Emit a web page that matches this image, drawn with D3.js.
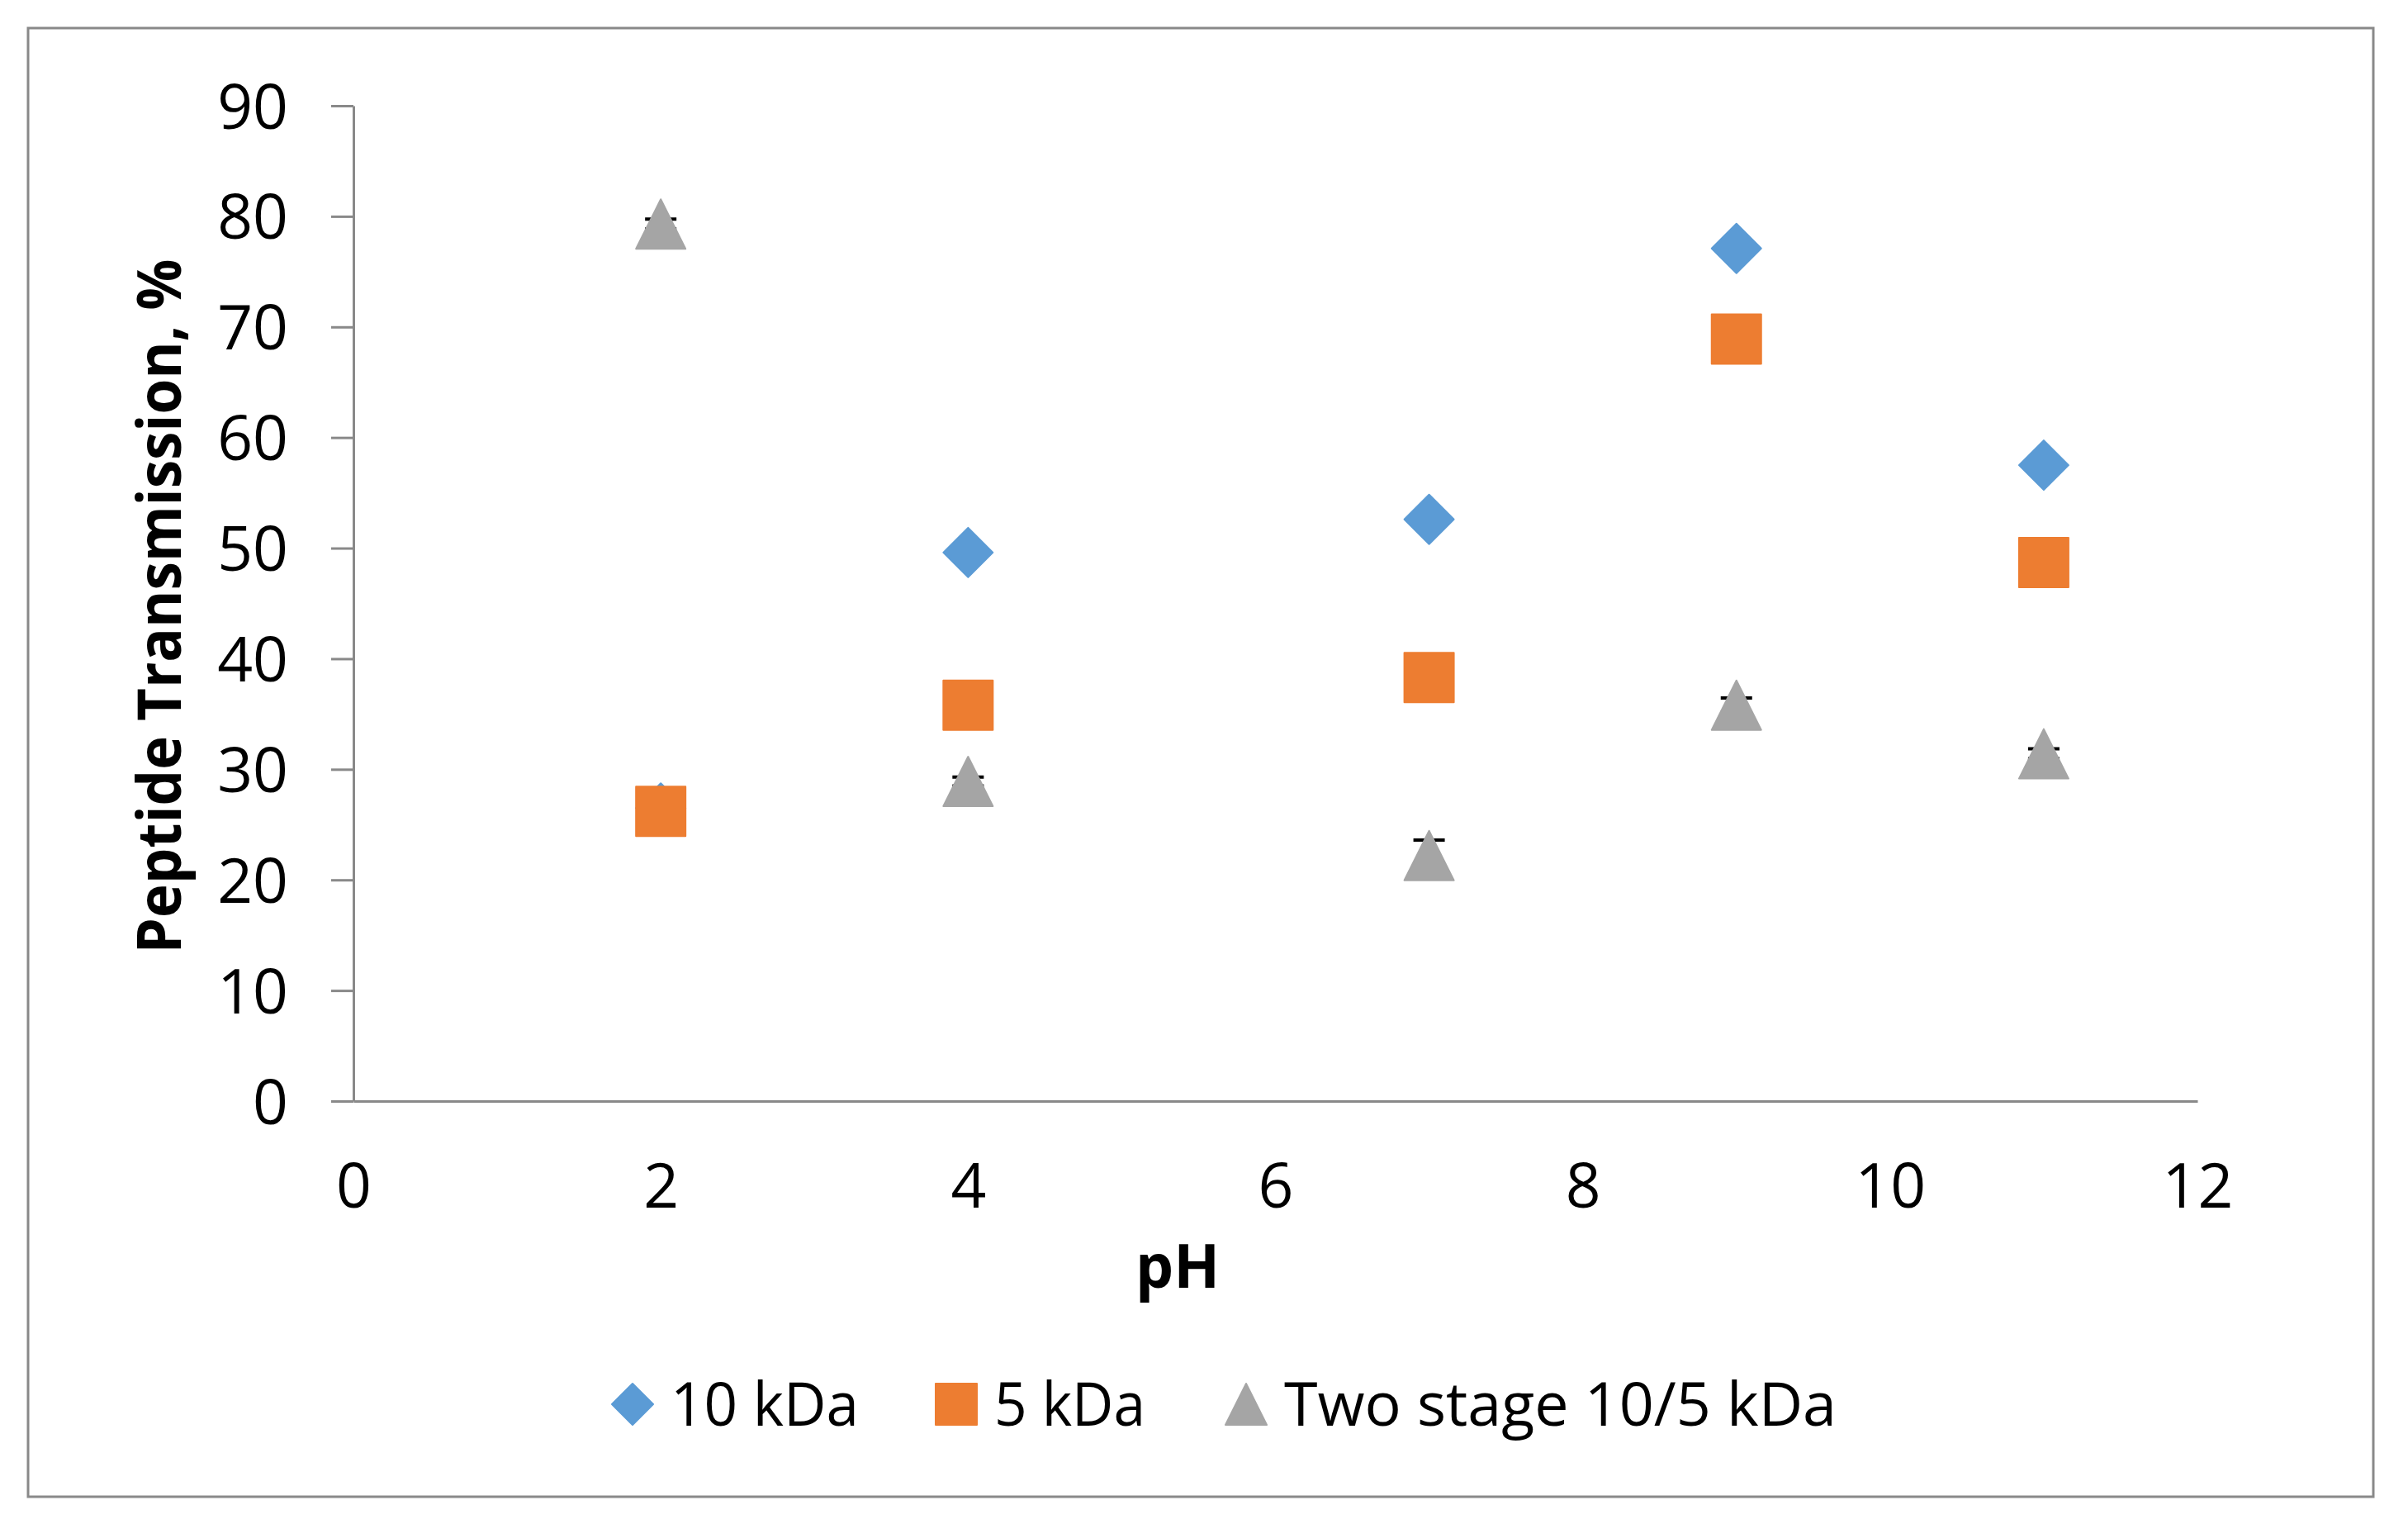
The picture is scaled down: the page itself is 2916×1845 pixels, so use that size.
<!DOCTYPE html>
<html>
<head>
<meta charset="utf-8">
<script src="https://cdn.jsdelivr.net/npm/d3@7"></script>
<style>
  body { margin: 0; background: #fff; }
  text { font-family: "Open Sans", sans-serif; fill: #000; }
</style>
</head>
<body>
<script>
// data
const phValues = [2, 4, 7, 9, 11];
const kda10 = [26.5, 49.6, 52.6, 77.1, 57.5];
const kda5 = [26.2, 35.8, 38.3, 68.9, 48.7];
const twoStage = [79.3, 28.9, 22.2, 35.8, 31.4];
const twoStageErr = [0.45, 0.4, 1.4, 0.65, 0.45];
const xTicks = [0, 2, 4, 6, 8, 10, 12];
const yTicks = [0, 10, 20, 30, 40, 50, 60, 70, 80, 90];
const seriesNames = ["10 kDa", "5 kDa", "Two stage 10/5 kDa"];
const seriesColors = ["#5B9BD5", "#ED7D31", "#A5A5A5"];

const W = 2916, H = 1845;
const svg = d3.select("body").append("svg")
    .attr("width", W)
    .attr("height", H);

// chart frame
svg.append("rect")
    .attr("x", 34).attr("y", 34)
    .attr("width", 2840).attr("height", 1778)
    .attr("fill", "none")
    .attr("stroke", "#898989")
    .attr("stroke-width", 3);

const x = d3.scaleLinear().domain([0, 12]).range([428, 2661]);
const y = d3.scaleLinear().domain([0, 90]).range([1333, 128]);

// y axis
const yAxis = svg.append("g")
    .attr("transform", `translate(${x(0)},0)`)
    .call(d3.axisLeft(y).tickValues(yTicks).tickSize(27).tickSizeOuter(0).tickPadding(52));
yAxis.selectAll("path, line").attr("stroke", "#898989").attr("stroke-width", 3);
yAxis.selectAll("text")
    .attr("font-size", 75)
    .attr("font-family", "Open Sans, sans-serif")
    .attr("dy", "0.36em");

// x axis
const xAxis = svg.append("g")
    .attr("transform", `translate(0,${y(0)})`)
    .call(d3.axisBottom(x).tickValues(xTicks).tickSize(0).tickSizeOuter(0).tickPadding(102));
xAxis.selectAll("path").attr("stroke", "#898989").attr("stroke-width", 3);
xAxis.selectAll("text")
    .attr("font-size", 75)
    .attr("font-family", "Open Sans, sans-serif")
    .attr("dy", "0.36em");
// y axis domain over the x domain start so the 0 tick sits on top
yAxis.raise();

// axis titles
svg.append("text")
    .attr("x", 1426).attr("y", 1559)
    .attr("text-anchor", "middle")
    .attr("font-size", 73)
    .attr("font-weight", "bold")
    .text("pH");

svg.append("text")
    .attr("transform", "translate(219,734) rotate(-90)")
    .attr("text-anchor", "middle")
    .attr("font-size", 73)
    .attr("font-weight", "bold")
    .attr("textLength", 841)
    .attr("lengthAdjust", "spacingAndGlyphs")
    .text("Peptide Transmission, %");

// marker shapes, s = half size
const diamond = (cx, cy, s) => `M${cx},${cy - s}L${cx + s},${cy}L${cx},${cy + s}L${cx - s},${cy}Z`;
const square = (cx, cy, s) => `M${cx - s},${cy - s}H${cx + s}V${cy + s}H${cx - s}Z`;
const triangle = (cx, cy, s) => `M${cx},${cy - s}L${cx + s},${cy + s}L${cx - s},${cy + s}Z`;
const shapes = [diamond, square, triangle];

const pts = phValues.map((p, i) => ({ ph: p, a: kda10[i], b: kda5[i], c: twoStage[i], e: twoStageErr[i] }));

// error bars for the two-stage series (behind markers)
const eb = svg.append("g").attr("stroke", "#000").attr("stroke-width", 4);
pts.forEach(d => {
    eb.append("line")
        .attr("x1", x(d.ph)).attr("x2", x(d.ph))
        .attr("y1", y(d.c - d.e)).attr("y2", y(d.c + d.e));
    [d.c - d.e, d.c + d.e].forEach(v => {
        eb.append("line")
            .attr("x1", x(d.ph) - 19).attr("x2", x(d.ph) + 19)
            .attr("y1", y(v)).attr("y2", y(v));
    });
});

const keys = ["a", "b", "c"];
keys.forEach((k, si) => {
    svg.append("g").selectAll("path")
        .data(pts)
        .enter()
        .append("path")
        .attr("d", d => shapes[si](x(d.ph), y(d[k]), 30))
        .attr("fill", seriesColors[si])
        .attr("stroke", seriesColors[si])
        .attr("stroke-width", 2)
        .attr("stroke-linejoin", "round");
});

// legend
const legendMarkX = [766, 1158, 1509];
const legendTextW = [228, 183, 669];
const lg = svg.append("g");
seriesNames.forEach((name, i) => {
    lg.append("path")
        .attr("d", shapes[i](legendMarkX[i], 1700, 25))
        .attr("fill", seriesColors[i])
        .attr("stroke", seriesColors[i])
        .attr("stroke-width", 2)
        .attr("stroke-linejoin", "round");
    lg.append("text")
        .attr("x", legendMarkX[i] + 46)
        .attr("y", 1726)
        .attr("font-size", 73)
        .attr("textLength", legendTextW[i])
        .attr("lengthAdjust", "spacingAndGlyphs")
        .text(name);
});
</script>
</body>
</html>
